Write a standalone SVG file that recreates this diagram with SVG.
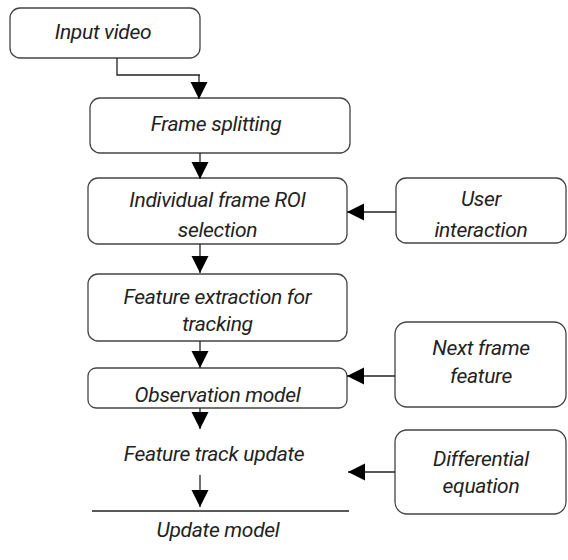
<svg xmlns="http://www.w3.org/2000/svg" width="568" height="560" viewBox="0 0 568 560">
<defs>
<style>
.box{fill:#fff;stroke:#444;stroke-width:1.3}
.t{font-family:Roboto,"Liberation Sans",sans-serif;font-style:italic;font-size:21px;fill:#222;text-anchor:middle;letter-spacing:-0.3px}
.c{fill:none;stroke:#222;stroke-width:1.3}
</style>
<marker id="ah" viewBox="0 0 10 10" refX="10" refY="5" markerWidth="17" markerHeight="18" markerUnits="userSpaceOnUse" orient="auto">
<path d="M0,0 L10,5 L0,10 z" fill="#000"/>
</marker>
</defs>
<rect width="568" height="560" fill="#fff"/>
<g id="input-video"><rect class="box" x="10" y="8" width="190" height="50" rx="10"/><text class="t" x="103" y="39">Input video</text></g>
<g id="frame-splitting"><rect class="box" x="90" y="98" width="260" height="55" rx="10"/><text class="t" x="216" y="131">Frame splitting</text></g>
<g id="roi-selection"><rect class="box" x="88" y="178" width="259" height="66" rx="10"/><text class="t" x="217.5" y="207">Individual frame ROI</text><text class="t" x="217.5" y="237">selection</text></g>
<g id="feature-extraction"><rect class="box" x="88" y="274" width="259" height="67" rx="10"/><text class="t" x="217.5" y="304">Feature extraction for</text><text class="t" x="217.5" y="331">tracking</text></g>
<g id="observation-model"><rect class="box" x="88" y="368" width="259" height="40" rx="8"/><text class="t" x="217.5" y="402">Observation model</text></g>
<g id="feature-track-update"><text class="t" x="214" y="461">Feature track update</text></g>
<g id="update-model"><line x1="92" y1="511" x2="349" y2="511" stroke="#222" stroke-width="1.3"/><text class="t" x="218" y="537">Update model</text></g>
<g id="user-interaction"><rect class="box" x="396" y="178" width="170" height="65" rx="10"/><text class="t" x="481" y="206">User</text><text class="t" x="481" y="237">interaction</text></g>
<g id="next-frame-feature"><rect class="box" x="395" y="322" width="171" height="85" rx="12"/><text class="t" x="481" y="355">Next frame</text><text class="t" x="481" y="383">feature</text></g>
<g id="differential-equation"><rect class="box" x="395" y="430" width="171" height="84" rx="12"/><text class="t" x="481" y="466">Differential</text><text class="t" x="481" y="493">equation</text></g>
<g id="connectors">
<path class="c" d="M117,58 V75 H200"/>
<path class="c" d="M199,75 V99" marker-end="url(#ah)"/>
<path class="c" d="M200,153 V179" marker-end="url(#ah)"/>
<path class="c" d="M200,244 V273" marker-end="url(#ah)"/>
<path class="c" d="M200,341 V368" marker-end="url(#ah)"/>
<path class="c" d="M200,408 V429" marker-end="url(#ah)"/>
<path class="c" d="M200,475 V507" marker-end="url(#ah)"/>
<path class="c" d="M396,212 H347" marker-end="url(#ah)"/>
<path class="c" d="M395,376 H347" marker-end="url(#ah)"/>
<path class="c" d="M395,472 H348" marker-end="url(#ah)"/>
</g>
</svg>
